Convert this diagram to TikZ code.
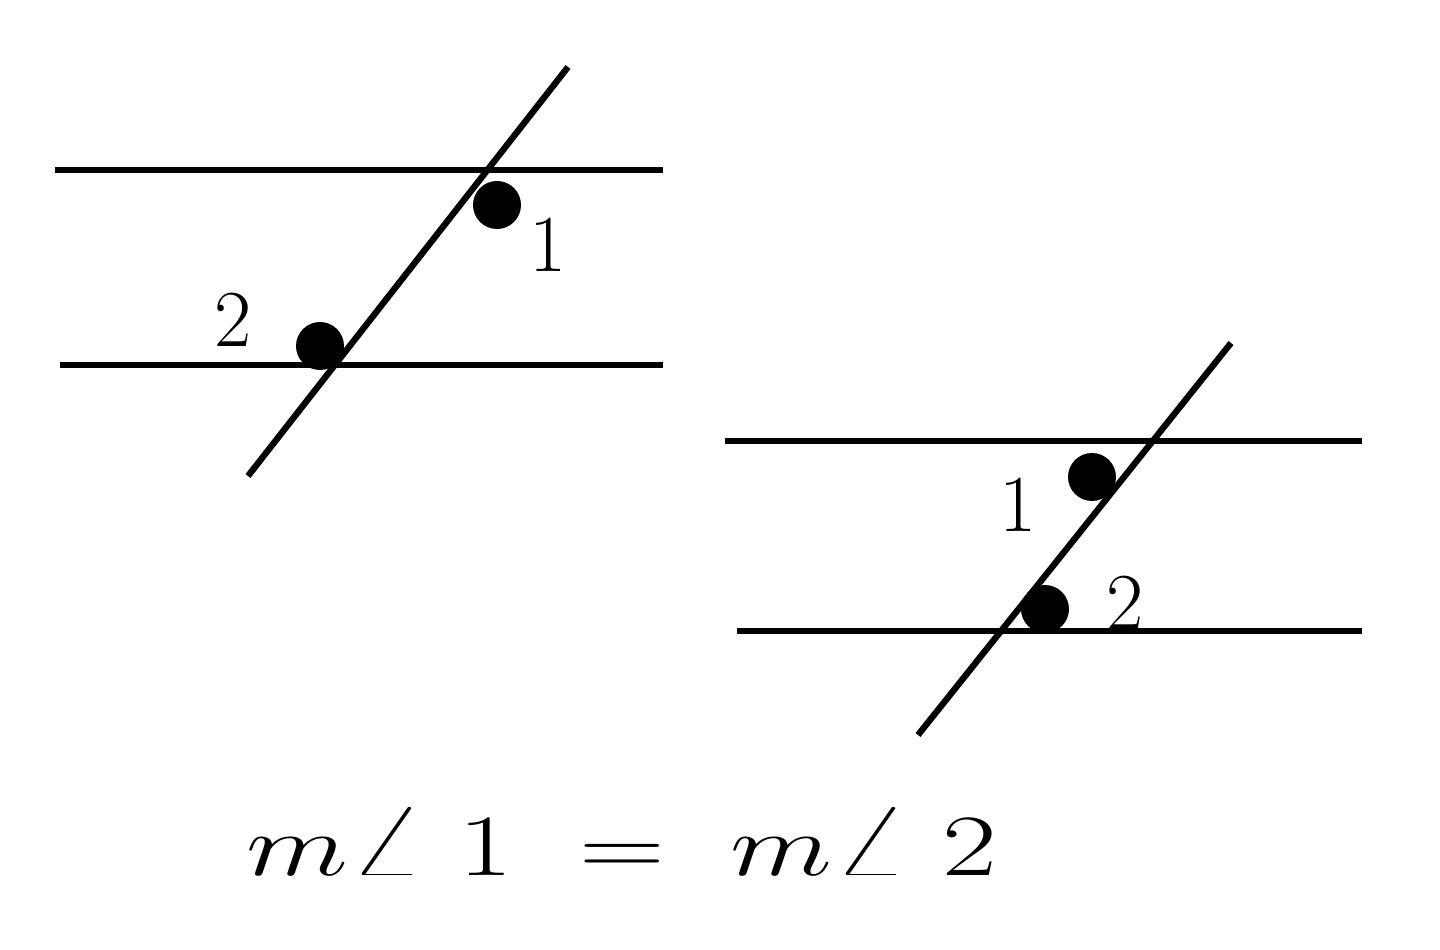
\documentclass[tikz,border=0pt]{standalone}
\begin{document}
\begin{tikzpicture}[line width=1.8pt,
    dot/.style={circle, fill, inner sep=0pt, minimum size=4.8mm},
    num/.style={font=\fontsize{23}{27}\selectfont}]
  \useasboundingbox (0,0) rectangle (14.4,9.49);

  % left figure
  \coordinate (A1) at (0.55,7.79);  \coordinate (A2) at (6.63,7.79);
  \coordinate (B1) at (0.60,5.84);  \coordinate (B2) at (6.63,5.84);
  \coordinate (T1) at (2.48,4.73);  \coordinate (T2) at (5.68,8.82);
  \draw (A1) -- (A2);
  \draw (B1) -- (B2);
  \draw (T1) -- (T2);
  \node[dot] (d1) at (4.97,7.44) {};
  \node[dot] (d2) at (3.20,6.03) {};
  \node[num] (n1) at (5.48,7.04) {1};
  \node[num] (n2) at (2.33,6.29) {2};

  % right figure
  \coordinate (C1) at (7.25,5.08);  \coordinate (C2) at (13.62,5.08);
  \coordinate (D1) at (7.37,3.18);  \coordinate (D2) at (13.62,3.18);
  \coordinate (S1) at (9.18,2.14);  \coordinate (S2) at (12.31,6.06);
  \draw (C1) -- (C2);
  \draw (D1) -- (D2);
  \draw (S1) -- (S2);
  \node[dot] (e1) at (10.92,4.72) {};
  \node[dot] (e2) at (10.45,3.40) {};
  \node[num] (m1) at (10.18,4.44) {1};
  \node[num] (m2) at (11.25,3.46) {2};

  \node[anchor=base, font=\fontsize{30}{36}\selectfont] (eq) at (6.22,0.74)
    {\scalebox{1.36}[1]{$m\angle\;1\;=\;m\angle\;2$}};
\end{tikzpicture}
\end{document}
